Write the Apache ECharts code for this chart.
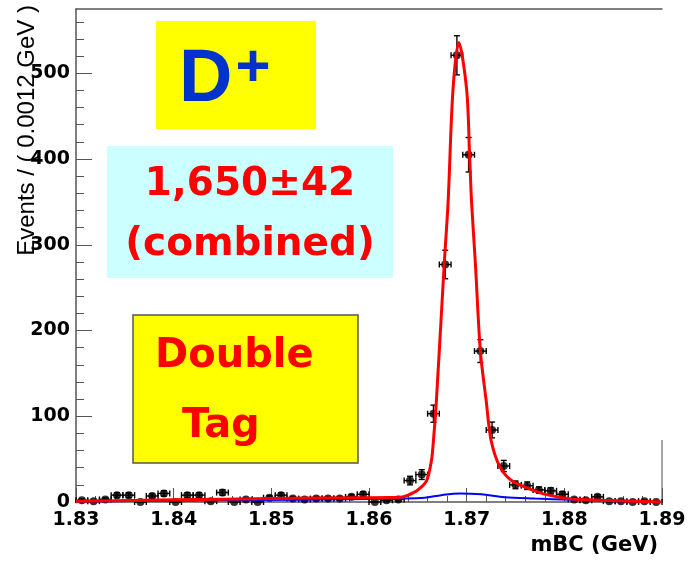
<!DOCTYPE html>
<html>
<head>
<meta charset="UTF-8">
<title>D+ double tag mBC</title>
<script src="https://cdn.jsdelivr.net/npm/echarts@6/dist/echarts.min.js"></script>
<style>
  html, body { margin: 0; padding: 0; background: #fff; }
  #chart { width: 691px; height: 563px; }
</style>
</head>
<body>
<div id="chart"></div>
<script>
// histogram binning: 50 bins of 0.0012 GeV starting at 1.83
const binLow = 1.83;
const binWidth = 0.0012;

// events per bin
const counts = [2, 1, 3, 8, 8, 0, 7, 10, 0, 8,
                8, 1, 11, 0, 3, 0, 5, 8, 4, 3,
                4, 4, 4, 6, 9, 0, 2, 3, 25, 32,
                103, 277, 521, 405, 176, 84, 42, 20, 19, 14,
                13, 9, 3, 2, 6, 1, 1, 0, 1, 0];
const errors = [1.4, 1, 1.7, 2.8, 2.8, 0, 2.6, 3.2, 0, 2.8,
                2.8, 1, 3.3, 0, 1.7, 0, 2.2, 2.8, 2, 1.7,
                2, 2, 2, 2.4, 3, 0, 1.4, 1.7, 5, 5.7,
                10, 16.6, 22.8, 20.1, 13.3, 9.2, 6.5, 4.5, 4.4, 3.7,
                3.6, 3, 1.7, 1.4, 2.4, 1, 1, 0, 1, 0];

// fit curves [mBC, events]
const fitTotal = [[1.830, 1], [1.840, 2.5], [1.850, 4], [1.858, 5], [1.8632, 5.5],
                  [1.8640, 8], [1.8650, 14], [1.8659, 25], [1.8664, 49], [1.8666, 72],
                  [1.8669, 118], [1.8677, 277], [1.8681, 350], [1.8686, 481], [1.8692, 536],
                  [1.8700, 481], [1.8703, 405], [1.8705, 350], [1.8709, 277], [1.8714, 176],
                  [1.8720, 118], [1.8725, 72], [1.8734, 41], [1.8746, 25], [1.8763, 16],
                  [1.8784, 8], [1.8808, 3.5], [1.8838, 2], [1.8869, 1], [1.890, 0]];
const fitBackground = [[1.830, 0.5], [1.845, 2], [1.860, 3.5], [1.8632, 4], [1.8657, 5],
                       [1.8674, 8], [1.8693, 10], [1.8715, 9], [1.8739, 5.5], [1.877, 4],
                       [1.8808, 2.5], [1.885, 1], [1.890, 0]];

const yLabels = [0, 100, 200, 300, 400, 500];

const points = counts.map((c, i) => [binLow + (i + 0.5) * binWidth, c, errors[i]]);

const chart = echarts.init(document.getElementById('chart'));

function renderErr(params, api) {
  const x = api.value(0), y = api.value(1), e = api.value(2);
  const l = api.coord([x - binWidth / 2, y]);
  const r = api.coord([x + binWidth / 2, y]);
  const t = api.coord([x, y + e]);
  const b = api.coord([x, Math.max(y - e, 0)]);
  const style = { stroke: '#000', lineWidth: 1.4 };
  const cap = 3;
  const line = (x1, y1, x2, y2) => ({ type: 'line', shape: { x1, y1, x2, y2 }, style });
  const kids = [
    line(l[0], l[1], r[0], r[1]),
    line(l[0], l[1] - cap, l[0], l[1] + cap),
    line(r[0], r[1] - cap, r[0], r[1] + cap)
  ];
  if (e > 0) {
    kids.push(line(t[0], t[1], b[0], b[1]));
    kids.push(line(t[0] - cap, t[1], t[0] + cap, t[1]));
    kids.push(line(b[0] - cap, b[1], b[0] + cap, b[1]));
  }
  return { type: 'group', children: kids };
}

const labelFont = { fontFamily: 'DejaVu Sans', fontWeight: 'bold', fontSize: 19, color: '#000' };
const boxFont = 'bold 40px "DejaVu Sans"';

const option = {
  animation: false,
  backgroundColor: '#fff',
  grid: { left: 76, right: 29, top: 9, bottom: 61, outerBoundsMode: 'none' },
  xAxis: [{
    type: 'value', min: 1.83, max: 1.89, interval: 0.01,
    axisLine: { lineStyle: { color: '#555', width: 1.5 } },
    axisTick: { inside: true, length: 14, lineStyle: { color: '#555' } },
    minorTick: { show: true, splitNumber: 5, length: 6, lineStyle: { color: '#555' } },
    splitLine: { show: false },
    axisLabel: Object.assign({ margin: 9, formatter: v => v.toFixed(2) }, labelFont),
    name: 'mBC (GeV)', nameLocation: 'end', nameGap: -4,
    nameTextStyle: { fontFamily: 'DejaVu Sans', fontWeight: 'bold', fontSize: 21, color: '#000',
                     align: 'right', verticalAlign: 'top', padding: [33, 0, 0, 0] }
  }, {
    type: 'value', position: 'top', min: 1.83, max: 1.89,
    axisLine: { show: true, onZero: false, lineStyle: { color: '#555', width: 1.5 } },
    axisTick: { show: false }, axisLabel: { show: false }, splitLine: { show: false }
  }],
  yAxis: {
    type: 'value', min: 0, max: 575, interval: 100,
    axisLine: { show: true, lineStyle: { color: '#555', width: 1.5 } },
    axisTick: { inside: true, length: 16, lineStyle: { color: '#555' }, customValues: yLabels },
    minorTick: { show: true, splitNumber: 5, length: 8, lineStyle: { color: '#555' } },
    splitLine: { show: false },
    axisLabel: Object.assign({ margin: 6, customValues: yLabels }, labelFont)
  },
  series: [{
    type: 'custom', renderItem: renderErr, data: points, z: 2
  }, {
    type: 'scatter', data: points.map(p => [p[0], p[1]]), symbol: 'circle', symbolSize: 8,
    itemStyle: { color: '#000' }, z: 3
  }, {
    type: 'line', data: fitBackground, smooth: 0.3, showSymbol: false, z: 4,
    lineStyle: { color: '#0000ff', width: 2 }
  }, {
    type: 'line', data: fitTotal, smooth: 0.3, showSymbol: false, z: 5,
    lineStyle: { color: '#ff0000', width: 3 }
  }],
  graphic: [
    { type: 'line', shape: { x1: 662, y1: 440, x2: 662, y2: 502 }, style: { stroke: '#888', lineWidth: 1.5 } },
    { type: 'text', x: 27, y: 5, rotation: Math.PI / 2, z: 10,
      style: { text: 'Events / ( 0.0012 GeV )', font: '24px "Liberation Sans"', fill: '#000',
               textAlign: 'right', textVerticalAlign: 'middle' } },
    { type: 'rect', shape: { x: 156, y: 21, width: 160, height: 108 }, style: { fill: '#ffff00' }, z: 10 },
    { type: 'text', x: 179, y: 81, z: 11,
      style: { text: 'D', font: 'bold 74px "Liberation Sans"', fill: '#0033cc', textVerticalAlign: 'middle' } },
    { type: 'text', x: 253, y: 69, z: 11,
      style: { text: '+', font: 'bold 60px "Liberation Sans"', fill: '#0033cc', textAlign: 'center', textVerticalAlign: 'middle' } },
    { type: 'rect', shape: { x: 107, y: 146, width: 286, height: 132 }, style: { fill: '#ccffff' }, z: 10 },
    { type: 'text', x: 250, y: 185, z: 11,
      style: { text: '1,650±42', font: 'bold 39px "DejaVu Sans"', fill: '#ff0000', textAlign: 'center', textVerticalAlign: 'middle' } },
    { type: 'text', x: 250, y: 245, z: 11,
      style: { text: '(combined)', font: 'bold 39px "DejaVu Sans"', fill: '#ff0000', textAlign: 'center', textVerticalAlign: 'middle' } },
    { type: 'rect', shape: { x: 133, y: 315, width: 225, height: 148 }, style: { fill: '#ffff00', stroke: '#555', lineWidth: 1.5 }, z: 10 },
    { type: 'text', x: 155, y: 357, z: 11,
      style: { text: 'Double', font: boxFont, fill: '#ff0000', textVerticalAlign: 'middle' } },
    { type: 'text', x: 182, y: 427, z: 11,
      style: { text: 'Tag', font: boxFont, fill: '#ff0000', textVerticalAlign: 'middle' } }
  ]
};

chart.setOption(option);
</script>
</body>
</html>
